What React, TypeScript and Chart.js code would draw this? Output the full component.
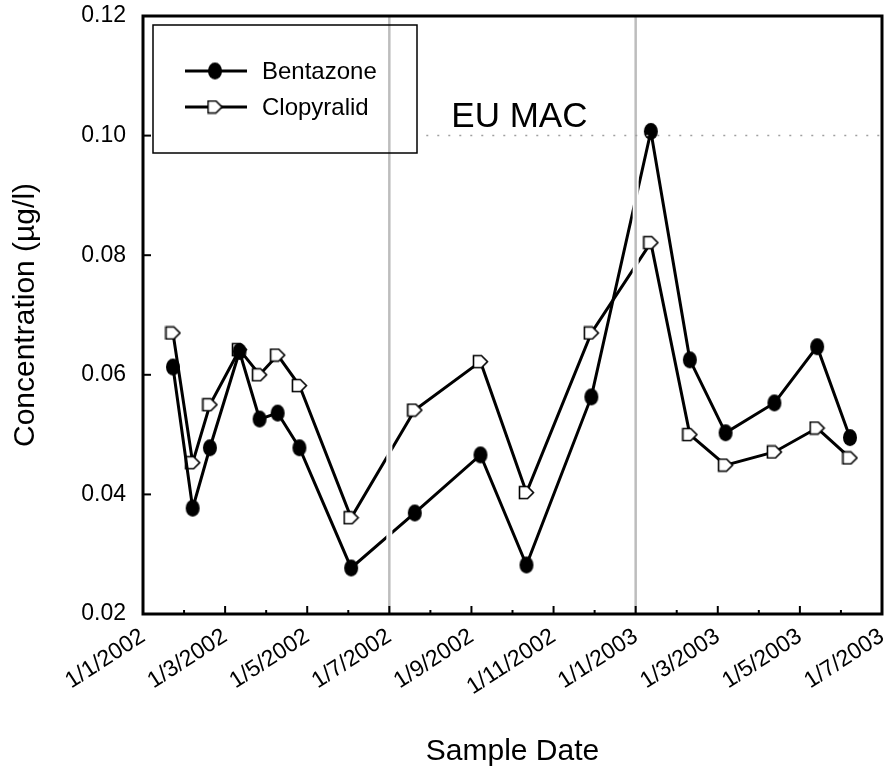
import React, { useEffect, useRef } from "react";
import { Chart, registerables } from "chart.js";

Chart.register(...registerables);

// x values: months elapsed since 1/1/2002
const sampleMonths = [0.73, 1.21, 1.63, 2.35, 2.84, 3.28, 3.81, 5.07, 6.62, 8.22, 9.34, 10.92, 12.37, 13.32, 14.19, 15.38, 16.42, 17.22];
const bentazone = [0.0613, 0.0377, 0.0478, 0.0639, 0.0526, 0.0536, 0.0478, 0.0277, 0.0369, 0.0466, 0.0282, 0.0563, 0.1007, 0.0625, 0.0503, 0.0553, 0.0647, 0.0495];
const clopyralid = [0.067, 0.0453, 0.055, 0.0642, 0.06, 0.0633, 0.0582, 0.0361, 0.0541, 0.0622, 0.0403, 0.067, 0.0821, 0.05, 0.0449, 0.0471, 0.0511, 0.0461];
const xTickLabels = ["1/1/2002", "1/3/2002", "1/5/2002", "1/7/2002", "1/9/2002", "1/11/2002", "1/1/2003", "1/3/2003", "1/5/2003", "1/7/2003"];
const verticalMarkers = [6, 12];
const euMacValue = 0.1;
const euMacStart = 6.9;
const euMacLabel = "EU MAC";
const seriesNames = ["Bentazone", "Clopyralid"];

const FONT = "'Liberation Sans', Arial, Helvetica, sans-serif";

function makeBentImg() {
  const c = document.createElement("canvas");
  c.width = 16; c.height = 19;
  const g = c.getContext("2d")!;
  g.fillStyle = "#000";
  g.beginPath();
  g.ellipse(8, 9.5, 7, 8.4, 0, 0, Math.PI * 2);
  g.fill();
  return c;
}
function makeClopImg() {
  const c = document.createElement("canvas");
  c.width = 17; c.height = 15;
  const g = c.getContext("2d")!;
  g.fillStyle = "#fff";
  g.strokeStyle = "#000";
  g.lineWidth = 1.6;
  g.beginPath();
  g.moveTo(1.5, 1.5);
  g.lineTo(9.5, 1.5);
  g.lineTo(15.5, 7.5);
  g.lineTo(9.5, 13.5);
  g.lineTo(1.5, 13.5);
  g.closePath();
  g.fill();
  g.stroke();
  return c;
}

export default function App() {
  const ref = useRef<HTMLCanvasElement>(null);
  useEffect(() => {
    document.body.style.margin = "0";
    const bentImg = makeBentImg();
    const clopImg = makeClopImg();
    const imgs = [bentImg, clopImg];

    const overlay = {
      id: "overlay",
      afterDatasetsDraw(chart: any) {
        const { ctx, chartArea: a, scales } = chart;
        const xs = scales.x, ys = scales.y;
        ctx.save();
        verticalMarkers.forEach((m) => {
          const px = xs.getPixelForValue(m);
          ctx.strokeStyle = "#fff";
          ctx.lineWidth = 6;
          ctx.beginPath(); ctx.moveTo(px, a.top); ctx.lineTo(px, a.bottom); ctx.stroke();
          ctx.strokeStyle = "#bdbdbd";
          ctx.lineWidth = 2.5;
          ctx.beginPath(); ctx.moveTo(px, a.top); ctx.lineTo(px, a.bottom); ctx.stroke();
        });
        const yMac = ys.getPixelForValue(euMacValue);
        ctx.strokeStyle = "#a0a0a0";
        ctx.lineWidth = 1.5;
        ctx.setLineDash([2, 9]);
        ctx.beginPath();
        ctx.moveTo(xs.getPixelForValue(euMacStart), yMac);
        ctx.lineTo(a.right, yMac);
        ctx.stroke();
        ctx.setLineDash([]);
        ctx.fillStyle = "#000";
        ctx.font = `35px ${FONT}`;
        ctx.textAlign = "left";
        ctx.textBaseline = "alphabetic";
        ctx.fillText(euMacLabel, xs.getPixelForValue(euMacStart) + 25, yMac - 9);
        ctx.restore();
      },
      afterDraw(chart: any) {
        const { ctx, chartArea: a, scales } = chart;
        const xs = scales.x, ys = scales.y;
        ctx.save();
        ctx.strokeStyle = "#000";
        ctx.lineWidth = 3;
        ctx.strokeRect(a.left, a.top, a.right - a.left, a.bottom - a.top);
        ctx.lineWidth = 2;
        ys.ticks.forEach((t: any) => {
          const py = ys.getPixelForValue(t.value);
          ctx.beginPath(); ctx.moveTo(a.left, py); ctx.lineTo(a.left + 8, py); ctx.stroke();
        });
        for (let m = xs.min; m <= xs.max; m += 1) {
          const px = xs.getPixelForValue(m);
          const len = m % 2 === 0 ? 8 : 4;
          ctx.beginPath(); ctx.moveTo(px, a.bottom); ctx.lineTo(px, a.bottom - len); ctx.stroke();
        }
        const bx = a.left + 10, by = a.top + 9, bw = 264, bh = 128;
        ctx.lineWidth = 1.5;
        ctx.strokeRect(bx, by, bw, bh);
        seriesNames.forEach((name, i) => {
          const ly = by + 46 + i * 36;
          ctx.lineWidth = 3;
          ctx.beginPath(); ctx.moveTo(bx + 32, ly); ctx.lineTo(bx + 94, ly); ctx.stroke();
          const img = imgs[i];
          ctx.drawImage(img, bx + 62 - img.width / 2, ly - img.height / 2);
          ctx.fillStyle = "#000";
          ctx.font = `24px ${FONT}`;
          ctx.textAlign = "left";
          ctx.textBaseline = "middle";
          ctx.fillText(name, bx + 109, ly + 1);
        });
        ctx.restore();
      },
    };

    const chart = new Chart(ref.current!, {
      type: "line",
      data: {
        datasets: [
          {
            label: seriesNames[0],
            data: sampleMonths.map((m, i) => ({ x: m, y: bentazone[i] })),
            borderColor: "#000",
            borderWidth: 3,
            pointStyle: bentImg as any,
            pointRadius: 8,
            tension: 0,
          },
          {
            label: seriesNames[1],
            data: sampleMonths.map((m, i) => ({ x: m, y: clopyralid[i] })),
            borderColor: "#000",
            borderWidth: 3,
            pointStyle: clopImg as any,
            pointRadius: 8,
            tension: 0,
          },
        ],
      },
      options: {
        animation: false,
        responsive: false,
        layout: { padding: { top: 16, right: 7, left: 0, bottom: 0 } },
        plugins: { legend: { display: false }, tooltip: { enabled: false } },
        scales: {
          x: {
            type: "linear",
            min: 0,
            max: 18,
            grid: { display: false, drawTicks: false },
            border: { display: false },
            ticks: {
              stepSize: 2,
              autoSkip: false,
              maxRotation: 33,
              minRotation: 33,
              padding: 9,
              color: "#000",
              font: { size: 23, family: FONT },
              callback: (v: any) => xTickLabels[Math.round(Number(v) / 2)] ?? "",
            },
            title: {
              display: true,
              text: "Sample Date",
              color: "#000",
              font: { size: 30, family: FONT },
              padding: { top: 0, bottom: 10 },
            },
            afterFit: (s: any) => {
              s.height = 166;
              s.paddingLeft = 0;
              s.paddingRight = 0;
            },
          },
          y: {
            type: "linear",
            min: 0.02,
            max: 0.12,
            grid: { display: false, drawTicks: false },
            border: { display: false },
            ticks: {
              stepSize: 0.02,
              padding: 17,
              color: "#000",
              font: { size: 23, family: FONT },
              callback: (v: any) => Number(v).toFixed(2),
            },
            title: {
              display: true,
              text: "Concentration (µg/l)",
              color: "#000",
              font: { size: 30, family: FONT },
              padding: { top: 8, bottom: 0 },
            },
            afterFit: (s: any) => {
              s.width = 143;
              s.paddingTop = 0;
              s.paddingBottom = 0;
            },
          },
        },
      },
      plugins: [overlay],
    });
    return () => chart.destroy();
  }, []);
  return <canvas ref={ref} width={893} height={780} style={{ display: "block" }} />;
}
